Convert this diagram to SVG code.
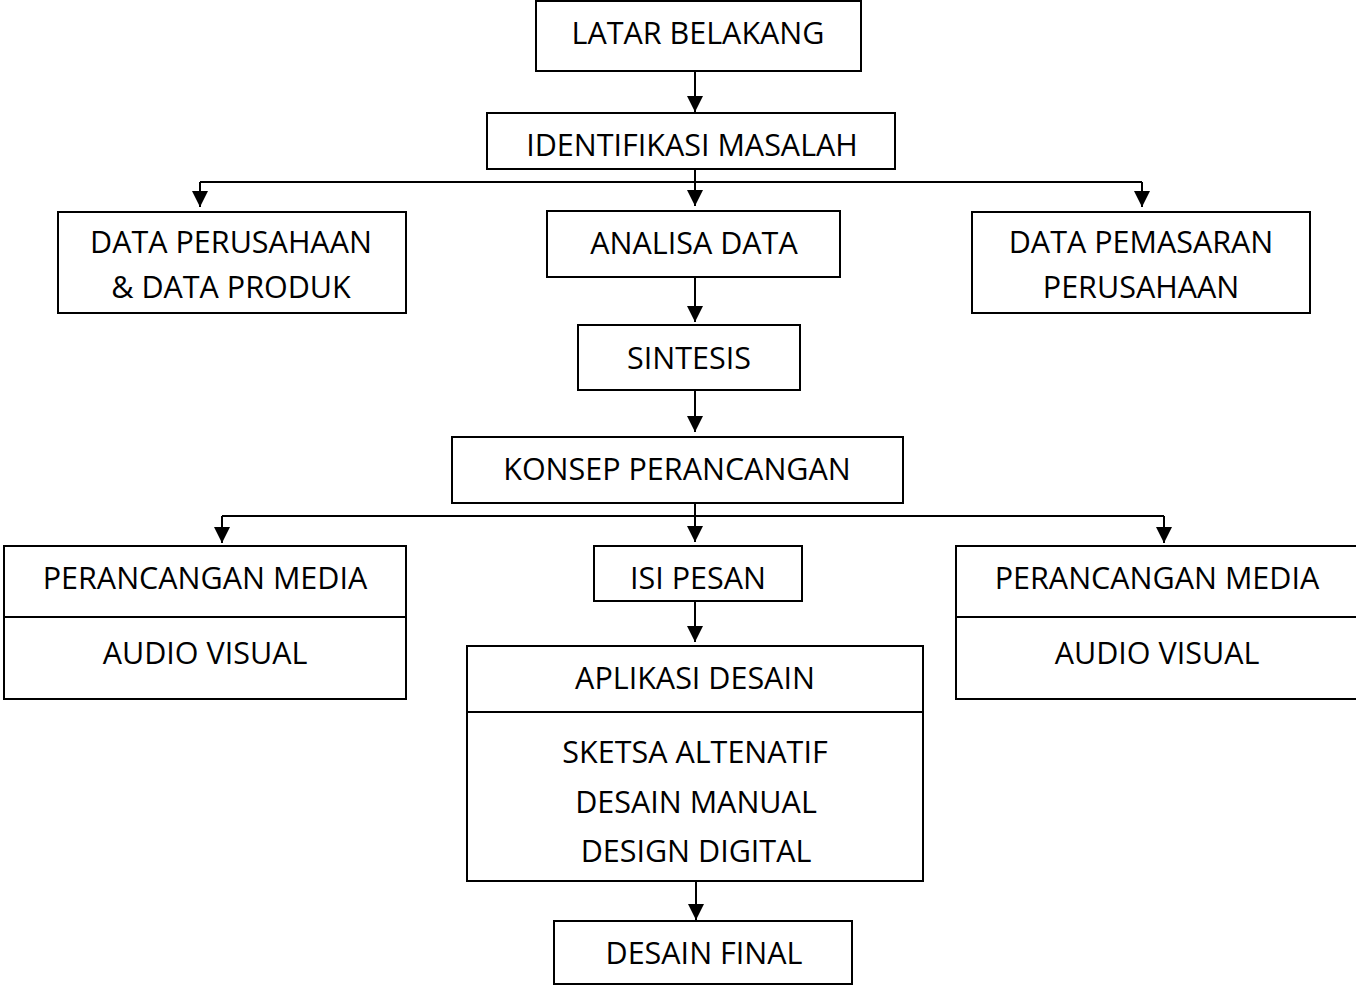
<svg xmlns="http://www.w3.org/2000/svg" width="1356" height="985" viewBox="0 0 1356 985">
<style>
.box{fill:#fff;stroke:#000;stroke-width:2}
.div{stroke:#000;stroke-width:2}
.t{font-family:"Open Sans","Liberation Sans",sans-serif;font-size:30.5px;fill:#000;text-anchor:middle}
.c{stroke:#000;stroke-width:2;fill:none}
</style>
<defs>
<marker id="a" markerWidth="16" markerHeight="16" refX="16" refY="8" orient="auto" markerUnits="userSpaceOnUse" viewBox="0 0 16 16">
<path d="M0,0 L16,8 L0,16 Z" fill="#000"/>
</marker>
</defs>
<rect width="1356" height="985" fill="#fff"/>
<g id="connectors">
<path class="c" d="M695,71 V112" marker-end="url(#a)"/>
<path class="c" d="M695,169 V206" marker-end="url(#a)"/>
<path class="c" d="M200,182 H1142"/>
<path class="c" d="M200,182 V207" marker-end="url(#a)"/>
<path class="c" d="M1142,182 V207" marker-end="url(#a)"/>
<path class="c" d="M695,277 V322" marker-end="url(#a)"/>
<path class="c" d="M695,390 V432" marker-end="url(#a)"/>
<path class="c" d="M695,503 V542" marker-end="url(#a)"/>
<path class="c" d="M222,516 H1164"/>
<path class="c" d="M222,516 V543" marker-end="url(#a)"/>
<path class="c" d="M1164,516 V543" marker-end="url(#a)"/>
<path class="c" d="M695,601 V642" marker-end="url(#a)"/>
<path class="c" d="M696,881 V920" marker-end="url(#a)"/>
</g>
<g id="latar"><rect class="box" x="536" y="1" width="325" height="70"/><text class="t" x="698" y="44">LATAR BELAKANG</text></g>
<g id="identifikasi"><rect class="box" x="487" y="113" width="408" height="56"/><text class="t" x="692" y="156">IDENTIFIKASI MASALAH</text></g>
<g id="data-perusahaan"><rect class="box" x="58" y="212" width="348" height="101"/><text class="t" x="231" y="253">DATA PERUSAHAAN</text><text class="t" x="231" y="298">&amp; DATA PRODUK</text></g>
<g id="analisa"><rect class="box" x="547" y="211" width="293" height="66"/><text class="t" x="694" y="254">ANALISA DATA</text></g>
<g id="data-pemasaran"><rect class="box" x="972" y="212" width="338" height="101"/><text class="t" x="1141" y="253">DATA PEMASARAN</text><text class="t" x="1141" y="298">PERUSAHAAN</text></g>
<g id="sintesis"><rect class="box" x="578" y="325" width="222" height="65"/><text class="t" x="689" y="369">SINTESIS</text></g>
<g id="konsep"><rect class="box" x="452" y="437" width="451" height="66"/><text class="t" x="677" y="480">KONSEP PERANCANGAN</text></g>
<g id="media-left"><rect class="box" x="4" y="546" width="402" height="153"/><line class="div" x1="4" y1="617" x2="406" y2="617"/><text class="t" x="205" y="589">PERANCANGAN MEDIA</text><text class="t" x="205" y="664">AUDIO VISUAL</text></g>
<g id="isi-pesan"><rect class="box" x="594" y="546" width="208" height="55"/><text class="t" x="698" y="589">ISI PESAN</text></g>
<g id="media-right"><rect class="box" x="956" y="546" width="402" height="153"/><line class="div" x1="956" y1="617" x2="1358" y2="617"/><text class="t" x="1157" y="589">PERANCANGAN MEDIA</text><text class="t" x="1157" y="664">AUDIO VISUAL</text></g>
<g id="aplikasi"><rect class="box" x="467" y="646" width="456" height="235"/><line class="div" x1="467" y1="712" x2="923" y2="712"/><text class="t" x="695" y="689">APLIKASI DESAIN</text><text class="t" x="695" y="763">SKETSA ALTENATIF</text><text class="t" x="696" y="813">DESAIN MANUAL</text><text class="t" x="696" y="862">DESIGN DIGITAL</text></g>
<g id="desain-final"><rect class="box" x="554" y="921" width="298" height="63"/><text class="t" x="704" y="964">DESAIN FINAL</text></g>
</svg>
